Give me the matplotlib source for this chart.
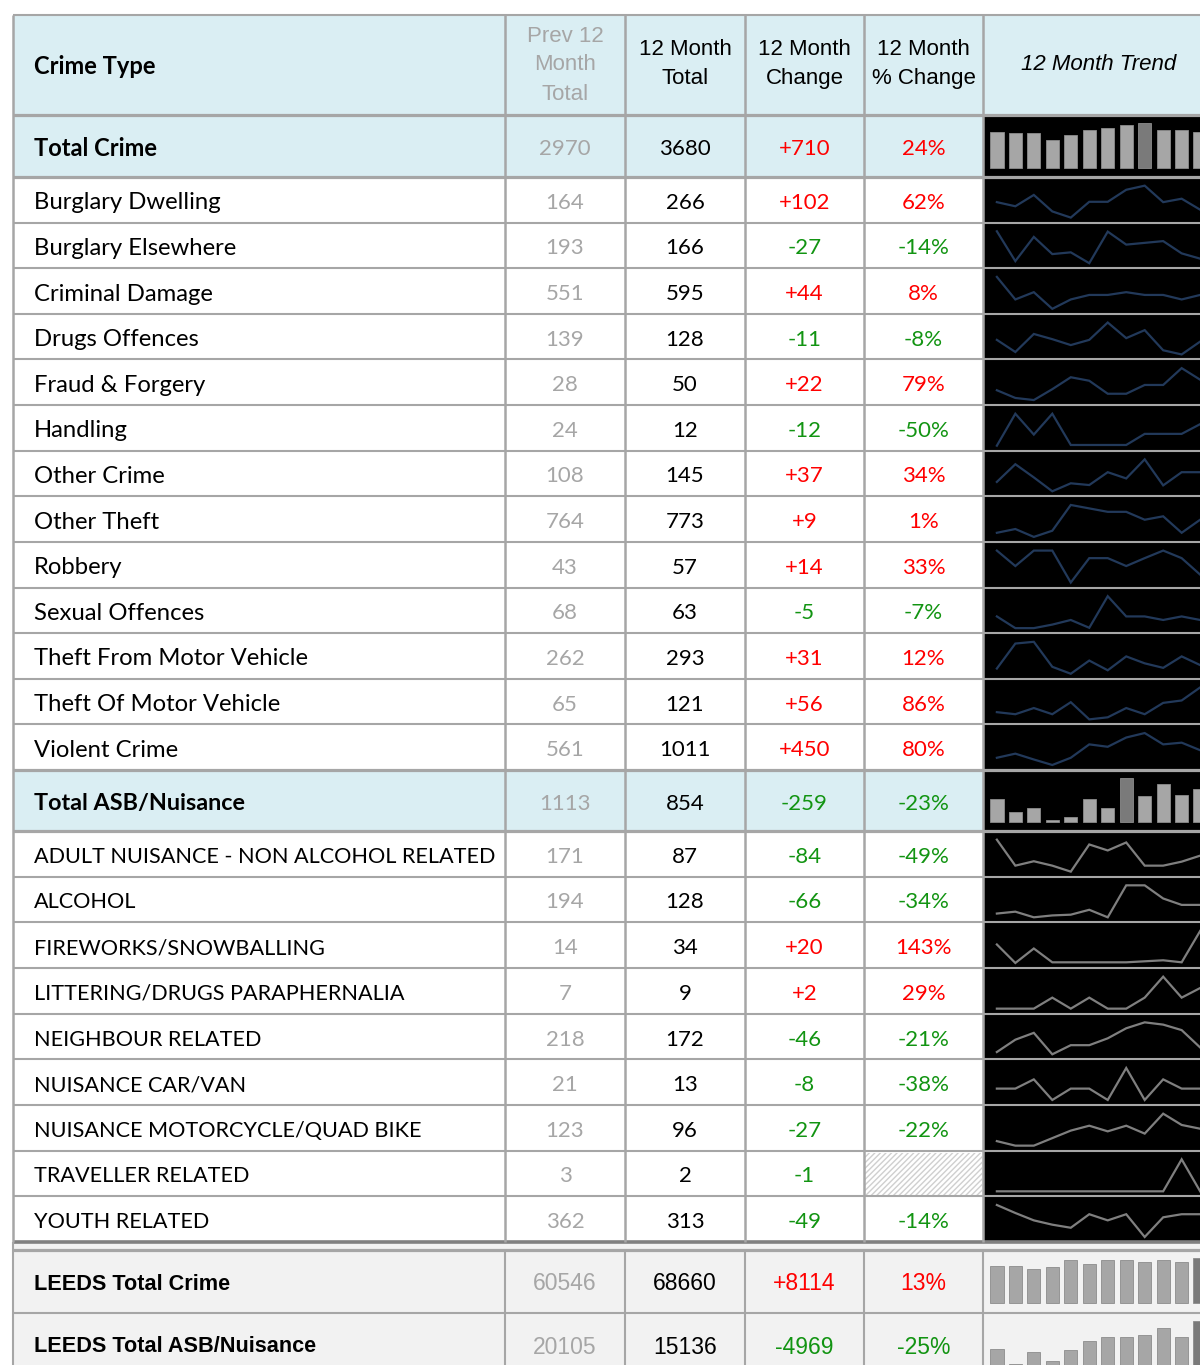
import matplotlib.pyplot as plt
import numpy as np
from matplotlib.patches import Rectangle

W, H = 1200, 1365

# Crime rows
crime_types = ["Burglary Dwelling", "Burglary Elsewhere", "Criminal Damage", "Drugs Offences",
               "Fraud & Forgery", "Handling", "Other Crime", "Other Theft", "Robbery",
               "Sexual Offences", "Theft From Motor Vehicle", "Theft Of Motor Vehicle",
               "Violent Crime"]
crime_prev = [164, 193, 551, 139, 28, 24, 108, 764, 43, 68, 262, 65, 561]
crime_total = [266, 166, 595, 128, 50, 12, 145, 773, 57, 63, 293, 121, 1011]

# Sparkline levels (relative heights, one per month)
crime_trends = [
    [57, 45, 78, 30, 12, 58, 58, 93, 105, 57, 67, 35],
    [108, 23, 92, 43, 48, 17, 107, 70, 75, 80, 45, 30],
    [107, 42, 63, 15, 42, 55, 55, 63, 55, 55, 42, 55],
    [60, 25, 77, 62, 45, 60, 110, 65, 88, 30, 18, 55],
    [45, 23, 17, 48, 82, 72, 35, 35, 60, 60, 108, 75],
    [15, 107, 47, 107, 17, 17, 17, 17, 49, 49, 49, 77],
    [40, 91, 53, 13, 36, 31, 68, 50, 105, 30, 68, 68],
    [27, 38, 15, 33, 108, 98, 88, 88, 65, 75, 27, 65],
    [105, 60, 105, 105, 12, 83, 83, 60, 83, 105, 83, 35],
    [48, 15, 15, 25, 38, 16, 105, 48, 48, 38, 48, 38],
    [30, 102, 107, 35, 15, 53, 25, 65, 45, 32, 65, 40],
    [35, 29, 47, 29, 64, 14, 20, 47, 29, 62, 69, 107],
    [38, 50, 33, 17, 38, 77, 70, 97, 110, 77, 82, 60],
]

# ASB rows
asb_types = ["ADULT NUISANCE - NON ALCOHOL RELATED", "ALCOHOL", "FIREWORKS/SNOWBALLING",
             "LITTERING/DRUGS PARAPHERNALIA", "NEIGHBOUR RELATED", "NUISANCE CAR/VAN",
             "NUISANCE MOTORCYCLE/QUAD BIKE", "TRAVELLER RELATED", "YOUTH RELATED"]
asb_prev = [171, 194, 14, 7, 218, 21, 123, 3, 362]
asb_total = [87, 128, 34, 9, 172, 13, 96, 2, 313]
asb_trends = [
    [107, 42, 53, 42, 27, 95, 80, 100, 42, 42, 52, 67],
    [32, 37, 22, 27, 29, 42, 22, 107, 107, 72, 55, 55],
    [70, 15, 58, 17, 17, 17, 17, 17, 20, 23, 17, 110],
    [17, 17, 17, 48, 17, 48, 17, 17, 48, 107, 48, 75],
    [42, 69, 84, 37, 57, 57, 72, 94, 107, 102, 90, 52],
    [47, 47, 73, 15, 47, 47, 15, 105, 15, 73, 47, 47],
    [35, 23, 23, 43, 63, 76, 61, 76, 55, 108, 78, 68],
    [17, 17, 17, 17, 17, 17, 17, 17, 17, 17, 107, 17],
    [105, 92, 80, 73, 68, 90, 80, 90, 53, 85, 90, 90],
]
suppressed_pct = ["TRAVELLER RELATED"]

# Summary rows: (label, prev 12 month, 12 month total)
total_crime = ("Total Crime", 2970, 3680)
total_asb = ("Total ASB/Nuisance", 1113, 854)
leeds_crime = ("LEEDS Total Crime", 60546, 68660)
leeds_asb = ("LEEDS Total ASB/Nuisance", 20105, 15136)

crime_monthly = [300, 287, 287, 227, 270, 314, 328, 358, 371, 314, 314, 300]
asb_monthly = [72, 59, 63, 52, 55, 72, 63, 92, 75, 86, 76, 81]
leeds_crime_monthly = [5360, 5360, 4840, 5220, 6070, 5550, 6070, 6070, 5830, 6070, 5830, 6400]
leeds_asb_monthly = [1159, 921, 1108, 955, 1142, 1295, 1363, 1363, 1397, 1516, 1363, 1635]

# colours / fonts
GRID = "#A6A6A6"
BLUE_BG = "#DAEEF3"
GREY_BG = "#F2F2F2"
RED = "#FF0000"
GREEN = "#129412"
GREY_TXT = "#A6A6A6"
LINE_CRIME = "#22395A"
LINE_ASB = "#7F7F7F"
BAR = "#A6A6A6"
BAR_MAX = "#7A7A7A"
LABEL_FONT = ["Lato", "DejaVu Sans"]
NARROW_FONT = ["Liberation Sans Narrow", "Liberation Sans", "DejaVu Sans"]
DY = 3  # text sits a little below the cell middle

col_x = [13, 505, 625, 745, 864, 983, 1214]
col_mid = [(a + b) / 2 for a, b in zip(col_x[:-1], col_x[1:])]

fig = plt.figure(figsize=(W / 100, H / 100), dpi=100)
ax = fig.add_axes([0, 0, 1, 1])
ax.set_xlim(0, W)
ax.set_ylim(H, 0)
ax.axis("off")


def fill(x0, y0, x1, y1, color):
    ax.add_patch(Rectangle((x0, y0), x1 - x0, y1 - y0, facecolor=color,
                           edgecolor="none", lw=0, zorder=1))


def cell_axes(y0, y1):
    x0, x1 = col_x[5], col_x[6]
    a = fig.add_axes([x0 / W, 1 - y1 / H, (x1 - x0) / W, (y1 - y0) / H])
    a.axis("off")
    a.set_xlim(-0.75, 11.75)
    return a


def draw_line_trend(y0, y1, values, color):
    a = cell_axes(y0, y1)
    v = np.array(values, dtype=float)
    lo, hi = v.min(), v.max()
    r = hi - lo
    a.plot(np.arange(len(v)), v, color=color, lw=1.6, solid_joinstyle="miter")
    a.set_ylim(lo - 0.157 * r, hi + 0.271 * r)


def draw_bar_trend(y0, y1, values, floor):
    a = cell_axes(y0, y1)
    v = np.array(values, dtype=float)
    colors = [BAR_MAX if val == v.max() else BAR for val in v]
    a.bar(np.arange(len(v)), v - floor, bottom=floor, width=0.72, color=colors,
          edgecolor="#8C8C8C", lw=0.6)
    rng = v.max() - floor
    a.set_ylim(floor - 0.21 * rng, floor + 1.18 * rng)


def draw_numbers(yc, prev, total, label, font, size):
    chg = total - prev
    pct = chg / prev * 100
    color = RED if chg > 0 else GREEN
    style = dict(ha="center", va="center", fontsize=size, family=font, zorder=5)
    ax.text(col_mid[1], yc + DY, f"{prev}", color=GREY_TXT, **style)
    ax.text(col_mid[2], yc + DY, f"{total}", color="black", **style)
    ax.text(col_mid[3], yc + DY, f"{chg:+d}", color=color, **style)
    if label in suppressed_pct:
        ax.add_patch(Rectangle((col_x[4] + 1, yc - 21), col_x[5] - col_x[4] - 2, 42,
                               facecolor="white", edgecolor="#CFCFCF", hatch="//////",
                               lw=0, zorder=2))
    else:
        ax.text(col_mid[4], yc + DY, f"{pct:.0f}%", color=color, **style)


# row boundaries
header = (15, 115)
total_crime_rows = (115, 177)
crime_edges = np.linspace(177, 770, len(crime_types) + 1)
total_asb_rows = (770, 831)
asb_edges = np.linspace(831, 1242, len(asb_types) + 1)
band = (1242, 1250)
leeds_crime_rows = (1250, 1313)
leeds_asb_rows = (1313, 1376)

# backgrounds
fill(col_x[0], header[0], W, header[1], BLUE_BG)
fill(col_x[0], total_crime_rows[0], col_x[5], total_crime_rows[1], BLUE_BG)
fill(col_x[0], total_asb_rows[0], col_x[5], total_asb_rows[1], BLUE_BG)
fill(col_x[5], total_crime_rows[0], W, crime_edges[-1], "black")
fill(col_x[5], total_asb_rows[0], W, asb_edges[-1], "black")
fill(col_x[0], band[0], W, H, GREY_BG)

# header
ax.text(34, 67, "Crime Type", ha="left", va="center", fontsize=17, weight="bold",
        family=LABEL_FONT)
ax.text(col_mid[1], 65, "Prev 12\nMonth\nTotal", ha="center", va="center", color=GREY_TXT,
        fontsize=16, family=NARROW_FONT, linespacing=1.5)
ax.text(col_mid[2], 64, "12 Month\nTotal", ha="center", va="center",
        fontsize=16, family=NARROW_FONT, linespacing=1.45)
ax.text(col_mid[3], 64, "12 Month\nChange", ha="center", va="center",
        fontsize=16, family=NARROW_FONT, linespacing=1.45)
ax.text(col_mid[4], 64, "12 Month\n% Change", ha="center", va="center",
        fontsize=16, family=NARROW_FONT, linespacing=1.45)
ax.text(col_mid[5], 65, "12 Month Trend", ha="center", va="center", style="italic",
        fontsize=16, family=NARROW_FONT)

# total crime
yc = sum(total_crime_rows) / 2
ax.text(34, yc + DY, total_crime[0], ha="left", va="center", fontsize=17, weight="bold",
        family=LABEL_FONT)
draw_numbers(yc, total_crime[1], total_crime[2], total_crime[0], LABEL_FONT, 16)
draw_bar_trend(*total_crime_rows, crime_monthly, 0)

for i, name in enumerate(crime_types):
    y0, y1 = crime_edges[i], crime_edges[i + 1]
    yc = (y0 + y1) / 2
    ax.text(34, yc + DY, name, ha="left", va="center", fontsize=17.2, family=LABEL_FONT)
    draw_numbers(yc, crime_prev[i], crime_total[i], name, LABEL_FONT, 16)
    draw_line_trend(y0, y1, crime_trends[i], LINE_CRIME)

# total asb
yc = sum(total_asb_rows) / 2
ax.text(34, yc + DY, total_asb[0], ha="left", va="center", fontsize=16.8, weight="bold",
        family=LABEL_FONT)
draw_numbers(yc, total_asb[1], total_asb[2], total_asb[0], LABEL_FONT, 16)
floor = min(asb_monthly) - 0.05 * (max(asb_monthly) - min(asb_monthly))
draw_bar_trend(*total_asb_rows, asb_monthly, floor)

for i, name in enumerate(asb_types):
    y0, y1 = asb_edges[i], asb_edges[i + 1]
    yc = (y0 + y1) / 2
    ax.text(34, yc + DY, name, ha="left", va="center", fontsize=15.6, family=LABEL_FONT)
    draw_numbers(yc, asb_prev[i], asb_total[i], name, LABEL_FONT, 16)
    draw_line_trend(y0, y1, asb_trends[i], LINE_ASB)

# Leeds rows
for row, rows, monthly in [(leeds_crime, leeds_crime_rows, leeds_crime_monthly),
                           (leeds_asb, leeds_asb_rows, leeds_asb_monthly)]:
    yc = rows[0] + 31
    ax.text(34, yc + DY, row[0], ha="left", va="center", fontsize=15.6, weight="bold",
            family=NARROW_FONT)
    draw_numbers(yc, row[1], row[2], row[0], NARROW_FONT, 16.5)
    if monthly is leeds_crime_monthly:
        fl = 0
    else:
        fl = min(monthly) - 0.07 * (max(monthly) - min(monthly))
    draw_bar_trend(*rows, monthly, fl)

# grid lines
thin, thick = 1.5, 2.3
h_lines = [(header[0], thin), (header[1], thick), (total_crime_rows[1], thick)]
h_lines += [(y, thin) for y in crime_edges[1:-1]]
h_lines += [(total_asb_rows[0], thick), (total_asb_rows[1], thick)]
h_lines += [(y, thin) for y in asb_edges[1:-1]]
h_lines += [(band[1], thick), (leeds_crime_rows[1], thin)]
for y, lw in h_lines:
    ax.hlines(y, col_x[0], W, color=GRID, lw=lw, zorder=4)
ax.hlines(band[0], col_x[0], W, color="#808080", lw=2.6, zorder=4)
for x in col_x[:-1]:
    ax.vlines(x, header[0], band[0], color=GRID, lw=thin + 0.3, zorder=4)
    ax.vlines(x, band[1], H, color=GRID, lw=thin, zorder=4)
ax.vlines(col_x[0], band[0], band[1], color=GRID, lw=thin, zorder=4)

fig.savefig("out.png", dpi=100)
plt.close(fig)
